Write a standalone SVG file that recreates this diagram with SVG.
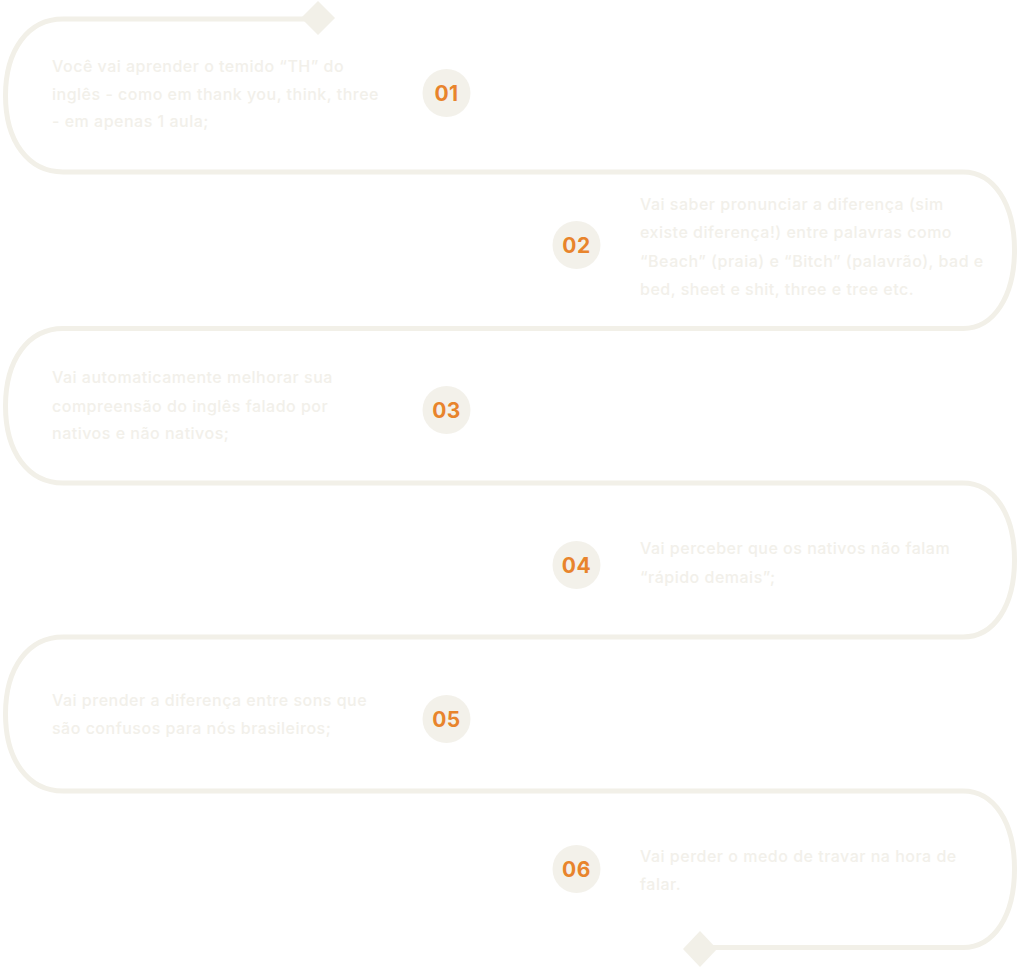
<svg xmlns="http://www.w3.org/2000/svg" width="1024" height="968" viewBox="0 0 1024 968">
<style>
.track{fill:none;stroke:#F2F0E8;stroke-width:5;stroke-linejoin:round}
.dia{fill:#F2F0E8}
.badge{fill:#F3F1EA}
.num{font-family:Inter,"Liberation Sans",sans-serif;font-weight:700;font-size:21px;fill:#E8842C;text-anchor:middle;letter-spacing:0.5px}
.txt{font-family:Inter,"Liberation Sans",sans-serif;font-weight:500;font-size:16px;fill:#F2F0EA;letter-spacing:0.5px}
</style>
<rect width="1024" height="968" fill="#FFFFFF"/>
<g id="connectors">
<path class="track" d="M318 19 H63 C28 19 5.5 50 5.5 95.5 C5.5 141 28 172 63 172 H963 C994 172 1014.5 204 1014.5 250 C1014.5 296 994 328.5 963 328.5 H63 C28 328.5 5.5 360 5.5 406 C5.5 452 28 483 63 483 H963 C994 483 1014.5 514 1014.5 560 C1014.5 606 994 637 963 637 H63 C28 637 5.5 668 5.5 714 C5.5 760 28 791 63 791 H963 C994 791 1014.5 822 1014.5 869 C1014.5 916 994 947.5 963 947.5 H700"/>
<polygon class="dia" points="318,1 335,18 318,35 301,18"/>
<polygon class="dia" points="700,931 717,949 700,967 683,949"/>
</g>
<g id="step1">
<circle class="badge" cx="446.5" cy="93" r="24"/>
<text class="num" x="446.5" y="100.5">01</text>
<text class="txt" x="52" y="72">Você vai aprender o temido “TH” do</text>
<text class="txt" x="52" y="99.5">inglês - como em thank you, think, three</text>
<text class="txt" x="52" y="127">- em apenas 1 aula;</text>
</g>
<g id="step2">
<circle class="badge" cx="576.5" cy="245" r="24"/>
<text class="num" x="576.5" y="252.5">02</text>
<text class="txt" x="640" y="210">Vai saber pronunciar a diferença (sim</text>
<text class="txt" x="640" y="238">existe diferença!) entre palavras como</text>
<text class="txt" x="640" y="266.5">“Beach” (praia) e “Bitch” (palavrão), bad e</text>
<text class="txt" x="640" y="295">bed, sheet e shit, three e tree etc.</text>
</g>
<g id="step3">
<circle class="badge" cx="446.5" cy="410" r="24"/>
<text class="num" x="446.5" y="417.5">03</text>
<text class="txt" x="52" y="383">Vai automaticamente melhorar sua</text>
<text class="txt" x="52" y="411.5">compreensão do inglês falado por</text>
<text class="txt" x="52" y="439">nativos e não nativos;</text>
</g>
<g id="step4">
<circle class="badge" cx="576.5" cy="565" r="24"/>
<text class="num" x="576.5" y="572.5">04</text>
<text class="txt" x="640" y="554">Vai perceber que os nativos não falam</text>
<text class="txt" x="640" y="583">“rápido demais”;</text>
</g>
<g id="step5">
<circle class="badge" cx="446.5" cy="719" r="24"/>
<text class="num" x="446.5" y="726.5">05</text>
<text class="txt" x="52" y="706">Vai prender a diferença entre sons que</text>
<text class="txt" x="52" y="734">são confusos para nós brasileiros;</text>
</g>
<g id="step6">
<circle class="badge" cx="576.5" cy="869" r="24"/>
<text class="num" x="576.5" y="876.5">06</text>
<text class="txt" x="640" y="862">Vai perder o medo de travar na hora de</text>
<text class="txt" x="640" y="890">falar.</text>
</g>
</svg>
